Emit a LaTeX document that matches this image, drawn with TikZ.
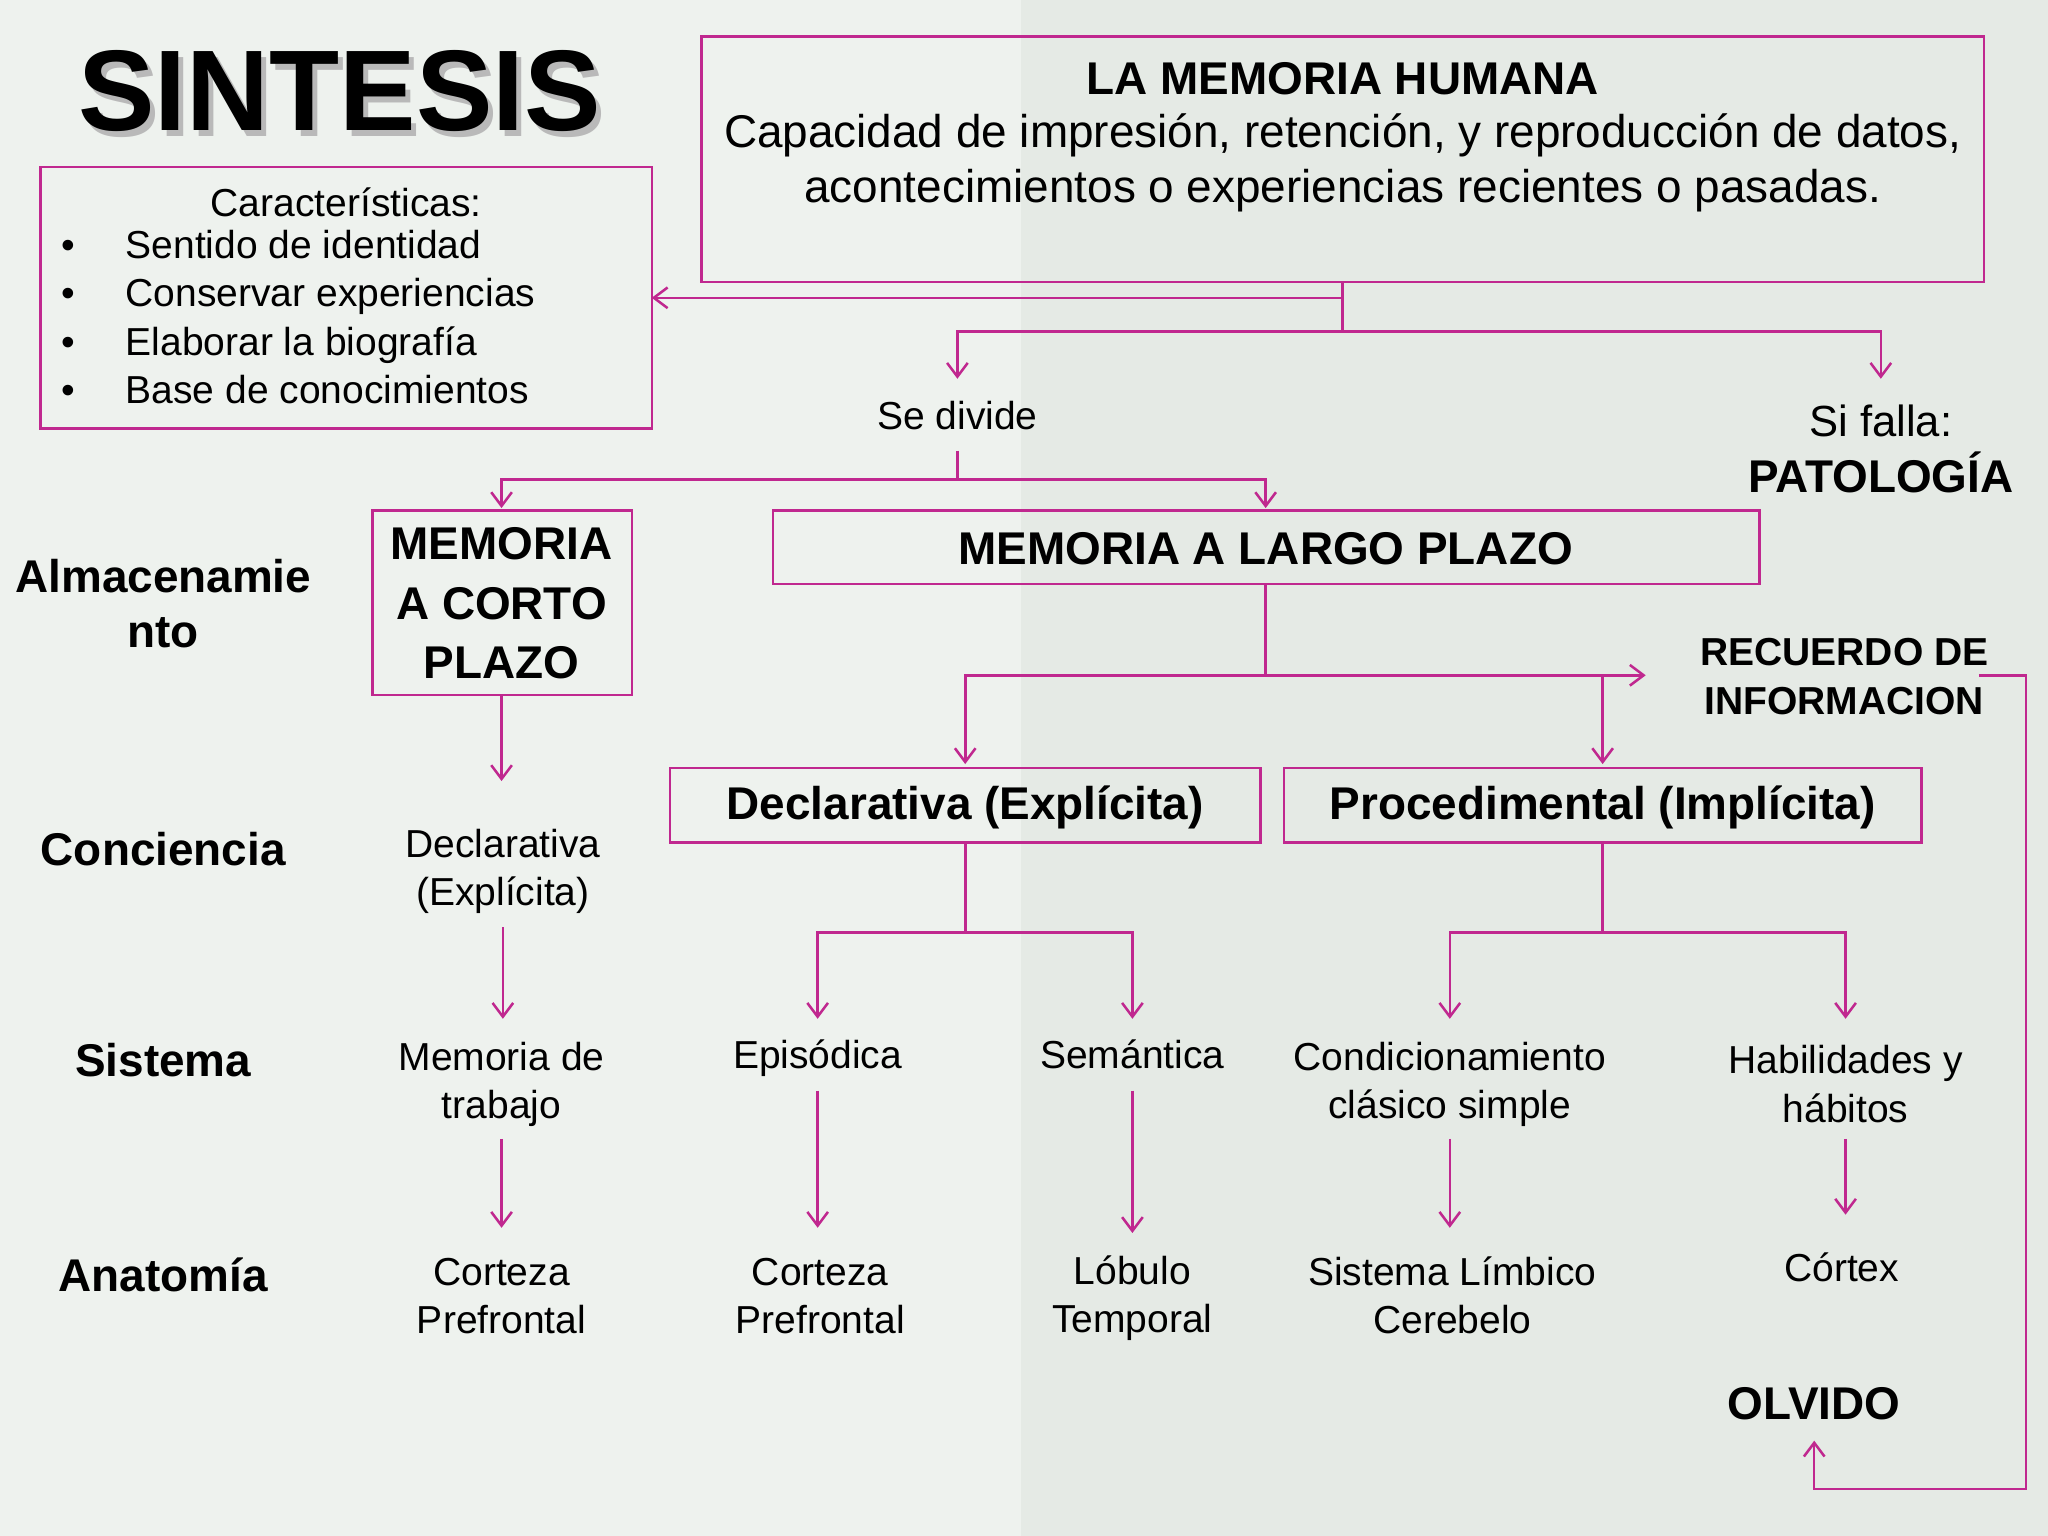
\documentclass[tikz,border=0pt]{standalone}
\usepackage{fontspec}
\setmainfont{Liberation Sans}
\usetikzlibrary{arrows.meta}
\definecolor{mag}{HTML}{C0288F}
\definecolor{bgl}{HTML}{EEF2EE}
\definecolor{bgr}{HTML}{E5EAE5}
\begin{document}
\begin{tikzpicture}[x=0.02cm,y=-0.02cm,>={Straight Barb[length=6pt,width=9pt]}]
  \tikzstyle{line}=[draw=mag,line width=1.1pt]
  \tikzstyle{box}=[draw=mag,line width=1.1pt,inner sep=0pt]
  \tikzstyle{txt}=[align=center,font=\fontsize{17}{21}\selectfont]
  \tikzstyle{bold}=[align=center,font=\fontsize{20}{24}\selectfont\bfseries]
  \tikzstyle{boxbold}=[align=center,font=\fontsize{20}{25}\selectfont\bfseries]

% background
\fill[bgl] (0,0) rectangle (1568,1176);
\fill[bgr] (782,0) rectangle (1568,1176);
\useasboundingbox (0,0) rectangle (1568,1176);

% title
\node (shadow) [gray!55,font=\fontsize{50}{50}\selectfont\bfseries] at (264,74) {SINTESIS};
\node (title) [font=\fontsize{50}{50}\selectfont\bfseries] at (260,70) {SINTESIS};

% main box
\draw[box] (537,28) rectangle (1519,216);
\coordinate (main) at (1028,216);
\node (human) [bold] at (1028,60) {LA MEMORIA HUMANA};
\node (def) [txt,font=\fontsize{20}{24}\selectfont] at (1028,125) {Capacidad de impresión, retención, y reproducción de datos,\\acontecimientos o experiencias recientes o pasadas.};

% characteristics
\draw[box] (31,128) rectangle (499,328);
\coordinate (car) at (499,228);
\node (cartitle) [txt] at (265,155) {Características:};
\foreach \y/\t in {191/Sentido de identidad,228/Conservar experiencias,265/Elaborar la biografía,302/Base de conocimientos}{
  \node[txt,anchor=base] at (52,\y+7) {•};
  \node[txt,anchor=base west] at (90,\y+7) {\t};
}

\draw[line,->] (main) -- (1028,228) -- (car);
\coordinate (split) at (1028,254);
\coordinate (divide) at (733,290);
\coordinate (falla) at (1440,290);
\draw[line] (main) -- (split);
\draw[line,->] (split) -| (divide);
\draw[line,->] (split) -| (falla);

\node (sediv) [txt] at (733,318) {Se divide};
\node (sifalla) [txt,font=\fontsize{19}{24}\selectfont] at (1440,322) {Si falla:};
\node (pato) [bold] at (1440,362) {PATOLOGÍA};

% row labels
\node (almac) [bold] at (125,462) {Almacenamie\\nto};
\node (conc) [bold] at (125,650) {Conciencia};
\node (sist) [bold] at (125,812) {Sistema};
\node (anat) [bold] at (125,976) {Anatomía};

% memory boxes
\draw[box] (285,391) rectangle (484,532);
\node (mcp) [boxbold,font=\fontsize{20}{26}\selectfont\bfseries] at (384,462) {MEMORIA\\A CORTO\\PLAZO};
\draw[box] (592,391) rectangle (1347,447);
\node (mlp) [boxbold] at (969,420) {MEMORIA A LARGO PLAZO};

\coordinate (sd) at (733,345);
\draw[line] (sd) -- (733,367);
\draw[line,->] (733,367) -| (384,389);
\draw[line,->] (733,367) -| (969,389);

% short term column
\node (cdecl) [txt] at (385,667) {Declarativa\\(Explícita)};
\node (trab) [txt] at (384,830) {Memoria de\\trabajo};
\node (pf1) [txt] at (384,992) {Corteza\\Prefrontal};
\draw[line,->] (384,532) -- (384,598);
\draw[line,->] (385,710) -- (385,780);
\draw[line,->] (384,872) -- (384,940);

% long term
\coordinate (lsplit) at (969,517);
\draw[line] (969,447) -- (lsplit);
\draw[line,->] (lsplit) -- (1260,517);
\draw[line,->] (lsplit) -| (739,585);
\draw[line,->] (1227,517) -- (1227,585);
\node (recuerdo) [bold,font=\fontsize{17}{21}\selectfont\bfseries] at (1412,518) {RECUERDO DE\\INFORMACION};
\node (olvido) [bold] at (1389,1075) {OLVIDO};
\draw[line,->] (1515,517) -- (1551,517) -- (1551,1140) -- (1389,1140) -- (1389,1103);

\draw[box] (513,588) rectangle (965,645);
\node (decl) [boxbold] at (739,618) {Declarativa (Explícita)};
\draw[box] (983,588) rectangle (1471,645);
\node (proc) [boxbold] at (1227,618) {Procedimental (Implícita)};

\draw[line] (739,645) -- (739,714);
\draw[line,->] (739,714) -| (626,780);
\draw[line,->] (739,714) -| (867,780);
\draw[line] (1227,645) -- (1227,714);
\draw[line,->] (1227,714) -| (1110,780);
\draw[line,->] (1227,714) -| (1413,780);

% systems
\node (epi) [txt,anchor=base] at (626,818) {Episódica};
\node (sem) [txt,anchor=base] at (867,818) {Semántica};
\node (cond) [txt] at (1110,830) {Condicionamiento\\clásico simple};
\node (hab) [txt] at (1413,830) {Habilidades y\\hábitos};

% anatomy
\node (pf2) [txt] at (628,992) {Corteza\\Prefrontal};
\node (lob) [txt] at (867,994) {Lóbulo\\Temporal};
\node (limb) [txt] at (1112,992) {Sistema Límbico\\Cerebelo};
\node (cort) [txt] at (1410,970) {Córtex};

\draw[line,->] (626,835) -- (626,940);
\draw[line,->] (867,835) -- (867,944);
\draw[line,->] (1110,872) -- (1110,940);
\draw[line,->] (1413,872) -- (1413,930);
\end{tikzpicture}
\end{document}
